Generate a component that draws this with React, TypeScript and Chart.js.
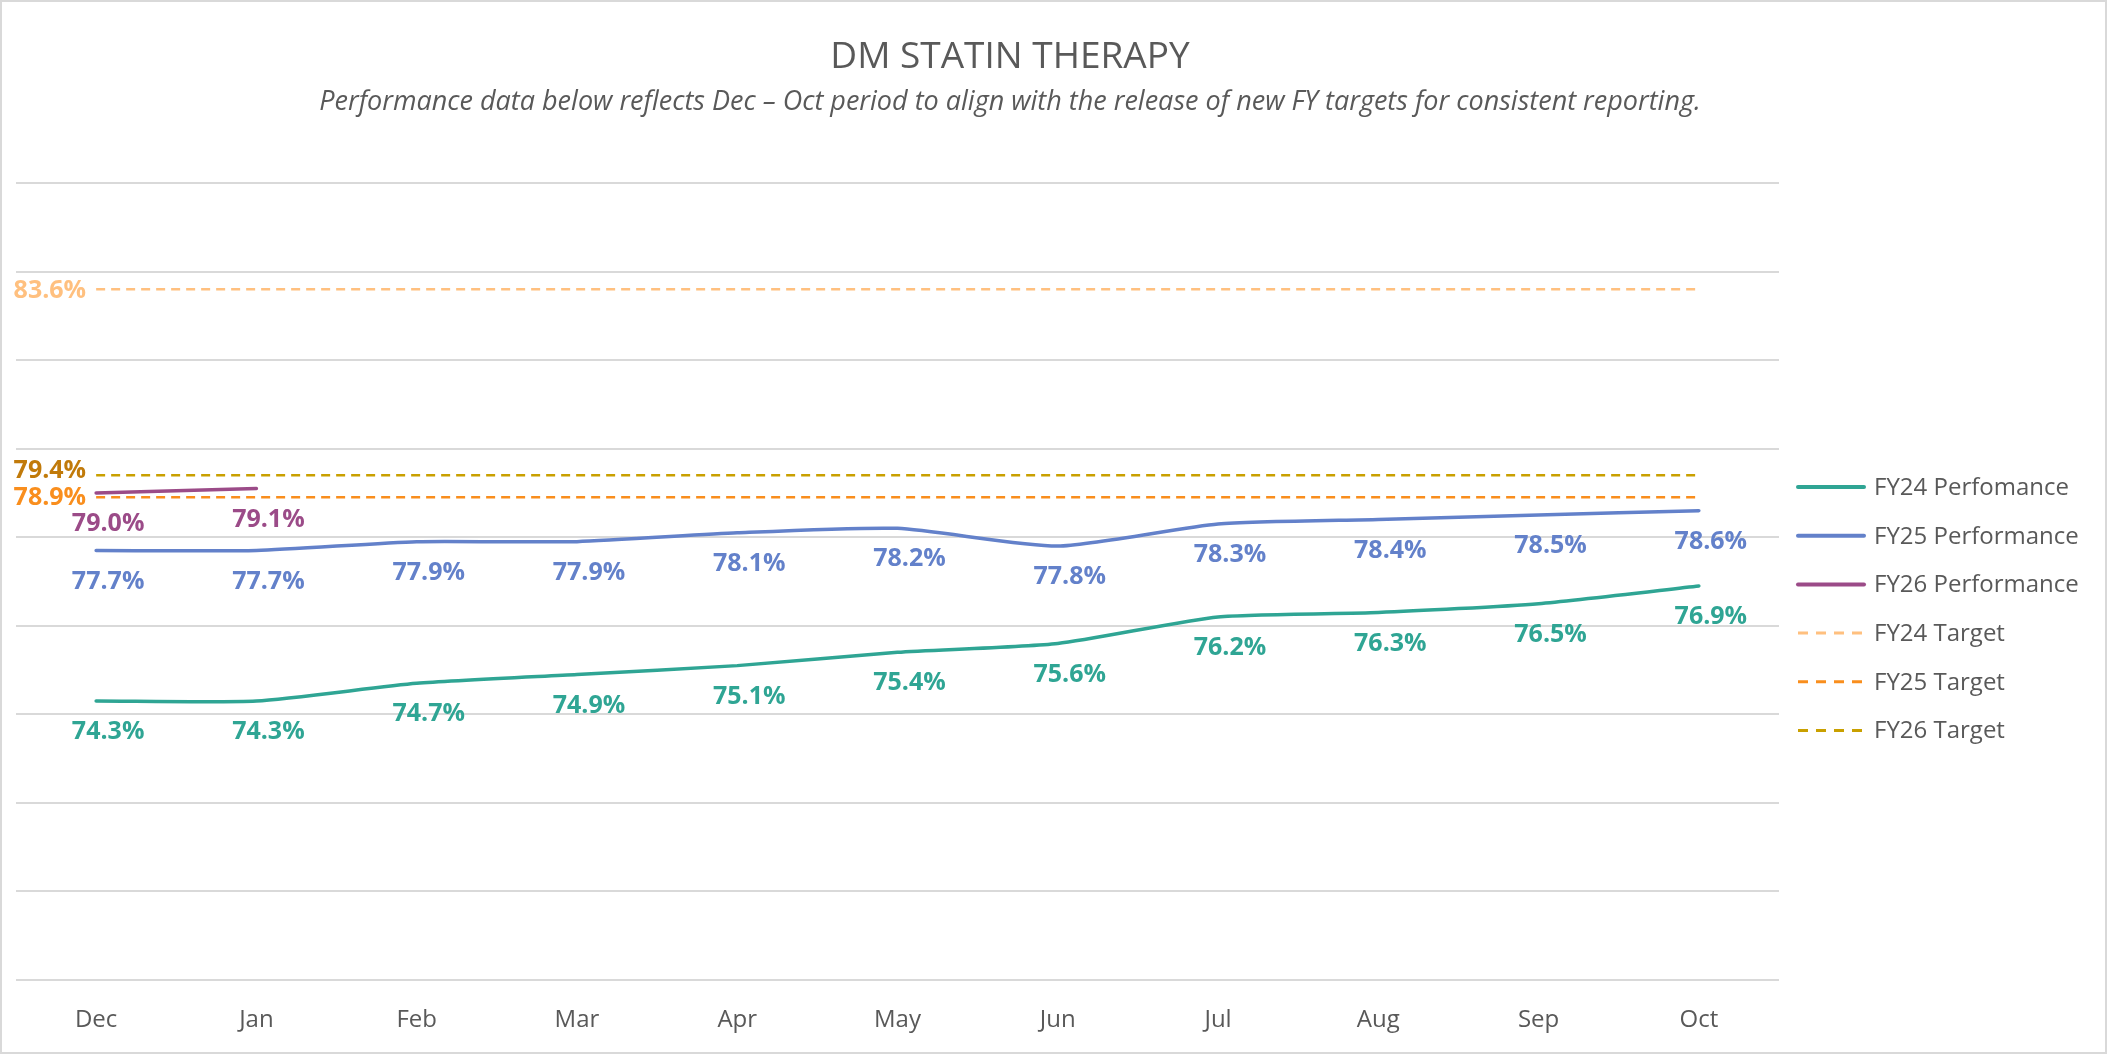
import React, { useEffect, useRef } from "react";
import { Chart, registerables } from "chart.js";

Chart.register(...registerables);

// ---------- data ----------
const titleText = "DM STATIN THERAPY";
const subtitleText =
  "Performance data below reflects Dec \u2013 Oct period to align with the release of new FY targets for consistent reporting.";

const months = ["Dec", "Jan", "Feb", "Mar", "Apr", "May", "Jun", "Jul", "Aug", "Sep", "Oct"];

const fy24Performance = [74.3, 74.3, 74.7, 74.9, 75.1, 75.4, 75.6, 76.2, 76.3, 76.5, 76.9];
const fy25Performance = [77.7, 77.7, 77.9, 77.9, 78.1, 78.2, 77.8, 78.3, 78.4, 78.5, 78.6];
const fy26Performance = [79.0, 79.1, null, null, null, null, null, null, null, null, null];

const fy24Target = [83.6, 83.6, 83.6, 83.6, 83.6, 83.6, 83.6, 83.6, 83.6, 83.6, 83.6];
const fy25Target = [78.9, 78.9, 78.9, 78.9, 78.9, 78.9, 78.9, 78.9, 78.9, 78.9, 78.9];
const fy26Target = [79.4, 79.4, 79.4, 79.4, 79.4, 79.4, 79.4, 79.4, 79.4, 79.4, 79.4];

const seriesNames = [
  "FY24 Perfomance",
  "FY25 Performance",
  "FY26 Performance",
  "FY24 Target",
  "FY25 Target",
  "FY26 Target",
];

const yMin = 68;
const yMax = 86;
const yStep = 2;

// ---------- styles ----------
const FONT = "'Open Sans', 'Noto Sans', 'DejaVu Sans', sans-serif";
const TEXT_GREY = "#595959";
const GRID_GREY = "#d9d9d9";

const C_FY24 = "#2fa594";
const C_FY25 = "#6381ca";
const C_FY26 = "#9b4b88";
const C_T24 = "#ffc07f";
const C_T25 = "#f98e1d";
const C_T26 = "#c9a000";
const C_T26_LABEL = "#c17a0a";

const W = 2107;
const H = 1054;

const fmt = (v: number) => v.toFixed(1) + "%";

const decorPlugin = {
  id: "decor",
  beforeDraw(chart: any) {
    const ctx = chart.ctx;
    ctx.save();
    ctx.fillStyle = "#ffffff";
    ctx.fillRect(0, 0, W, H);
    ctx.strokeStyle = GRID_GREY;
    ctx.lineWidth = 2;
    ctx.strokeRect(1, 1, W - 2, H - 2);
    ctx.restore();
  },
  afterDraw(chart: any) {
    const ctx = chart.ctx;
    ctx.save();
    // title + subtitle
    ctx.textAlign = "center";
    ctx.textBaseline = "middle";
    ctx.fillStyle = TEXT_GREY;
    ctx.font = `normal 37px ${FONT}`;
    ctx.fillText(titleText, 1010, 57);
    ctx.font = `italic 27px ${FONT}`;
    ctx.fillText(subtitleText, 1010, 102);

    // legend
    const ds = chart.data.datasets;
    ds.forEach((d: any, i: number) => {
      const y = 487 + i * 48.7;
      const dashed = d.borderDash && d.borderDash.length;
      ctx.beginPath();
      ctx.strokeStyle = d.borderColor;
      ctx.lineWidth = dashed ? 3 : 4;
      ctx.lineCap = dashed ? "butt" : "round";
      ctx.setLineDash(dashed ? [10, 8] : []);
      ctx.moveTo(1798, y);
      ctx.lineTo(1864, y);
      ctx.stroke();
      ctx.setLineDash([]);
      ctx.fillStyle = TEXT_GREY;
      ctx.font = `normal 24px ${FONT}`;
      ctx.textAlign = "left";
      ctx.textBaseline = "middle";
      ctx.fillText(d.label, 1874, y + 1);
    });

    // data labels for performance series
    ctx.font = `bold 25px ${FONT}`;
    ctx.textAlign = "center";
    ctx.textBaseline = "middle";
    [0, 1, 2].forEach((di) => {
      const meta = chart.getDatasetMeta(di);
      const data = ds[di].data;
      ctx.fillStyle = ds[di].borderColor;
      meta.data.forEach((el: any, j: number) => {
        const v = data[j];
        if (v === null || v === undefined) return;
        ctx.fillText(fmt(v), el.x + 12, el.y + 31);
      });
    });

    // target labels at the left end of each target line
    const targetLabel: Record<number, { color: string; dy: number }> = {
      3: { color: C_T24, dy: 2 },
      4: { color: C_T25, dy: 1 },
      5: { color: C_T26_LABEL, dy: -4 },
    };
    [3, 4, 5].forEach((di) => {
      const meta = chart.getDatasetMeta(di);
      const el = meta.data[0];
      const v = ds[di].data[0];
      const st = targetLabel[di];
      ctx.font = `bold 25px ${FONT}`;
      ctx.fillStyle = st.color;
      ctx.textAlign = "right";
      ctx.textBaseline = "middle";
      ctx.fillText(fmt(v), el.x - 10, el.y + st.dy);
    });
    ctx.restore();
  },
};

export default function App() {
  const ref = useRef<HTMLCanvasElement | null>(null);

  useEffect(() => {
    document.body.style.margin = "0";
    const canvas = ref.current;
    if (!canvas) return;

    const perf = (label: string, data: (number | null)[], color: string) => ({
      label,
      data,
      borderColor: color,
      backgroundColor: color,
      borderWidth: 3.5,
      pointRadius: 0,
      pointHoverRadius: 0,
      tension: 0.2,
      spanGaps: false,
      fill: false,
      borderCapStyle: "round" as const,
    });
    const target = (label: string, data: number[], color: string) => ({
      label,
      data,
      borderColor: color,
      backgroundColor: color,
      borderWidth: 2.5,
      borderDash: [9, 6],
      pointRadius: 0,
      pointHoverRadius: 0,
      tension: 0,
      fill: false,
    });

    const chart = new Chart(canvas, {
      type: "line",
      data: {
        labels: months,
        datasets: [
          perf(seriesNames[0], fy24Performance, C_FY24),
          perf(seriesNames[1], fy25Performance, C_FY25),
          perf(seriesNames[2], fy26Performance, C_FY26),
          target(seriesNames[3], fy24Target, C_T24),
          target(seriesNames[4], fy25Target, C_T25),
          target(seriesNames[5], fy26Target, C_T26),
        ],
      },
      options: {
        animation: false,
        responsive: false,
        maintainAspectRatio: false,
        devicePixelRatio: 1,
        layout: {
          padding: { left: 16, right: 328, top: 183, bottom: 0 },
        },
        plugins: {
          legend: { display: false },
          title: { display: false },
          tooltip: { enabled: false },
        },
        scales: {
          x: {
            offset: true,
            grid: { display: false, drawTicks: false },
            border: { display: false },
            ticks: {
              color: TEXT_GREY,
              font: { family: FONT, size: 24 },
              padding: 26,
              maxRotation: 0,
              autoSkip: false,
            },
            afterFit(scale: any) {
              scale.height = 74;
            },
          },
          y: {
            min: yMin,
            max: yMax,
            ticks: { display: false, stepSize: yStep },
            grid: { color: GRID_GREY, lineWidth: 2, drawTicks: false },
            border: { display: false },
          },
        },
      },
      plugins: [decorPlugin],
    });

    return () => chart.destroy();
  }, []);

  return (
    <div style={{ position: "absolute", left: 0, top: 0, width: W, height: H }}>
      <canvas ref={ref} width={W} height={H} style={{ width: W, height: H, display: "block" }} />
    </div>
  );
}
